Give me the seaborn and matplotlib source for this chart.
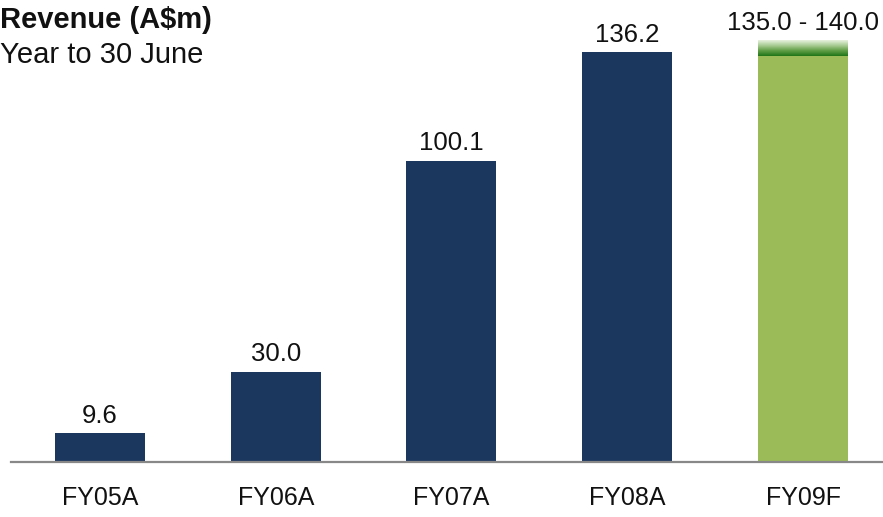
import numpy as np
import pandas as pd
import matplotlib
matplotlib.use("Agg")
import matplotlib.pyplot as plt
import seaborn as sns
from matplotlib.colors import LinearSegmentedColormap

categories = ["FY05A", "FY06A", "FY07A", "FY08A", "FY09F"]
revenue = [9.6, 30.0, 100.1, 136.2, 135.0]
labels = ["9.6", "30.0", "100.1", "136.2", "135.0 - 140.0"]
forecast_low = 135.0
forecast_high = 140.0

sns.set_theme(style="white")
plt.rcParams['font.family'] = ['Liberation Sans', 'DejaVu Sans']

fig = plt.figure(figsize=(8.83, 5.17), dpi=100)
ax = fig.add_axes([11/883, 55/517, 1 - 11/883, 462/517])

df = pd.DataFrame({"cat": categories, "val": revenue})
colors = ["#1b375e"] * 4 + ["#9bbb59"]
sns.barplot(data=df, x="cat", y="val", hue="cat", palette=colors, legend=False,
            width=0.512, ax=ax, saturation=1, linewidth=0)

# gradient cap for forecast range
cmap = LinearSegmentedColormap.from_list("g", ["#1f7418", "#5f9e45", "#a9cc95", "#e8f1df"])
grad = np.linspace(0, 1, 100).reshape(-1, 1)
ax.imshow(grad, aspect="auto", cmap=cmap, origin="lower",
          extent=(4 - 0.256, 4 + 0.256, forecast_low, forecast_high), zorder=3)
ax.set_xlim(-0.506, 4.455)
ax.set_ylim(0, 153.5)

tops = revenue[:4] + [forecast_high]
for i, (t, lab) in enumerate(zip(tops, labels)):
    ax.annotate(lab, (i, t), xytext=(0, 4), textcoords="offset points",
                ha="center", va="bottom", fontsize=18.5, color="#111111")

for s in ["top", "right", "left"]:
    ax.spines[s].set_visible(False)
ax.spines["bottom"].set_color("#888888")
ax.spines["bottom"].set_linewidth(1.6)
ax.set_yticks([])
ax.set_xlabel("")
ax.set_ylabel("")
ax.tick_params(axis="x", length=0, pad=17, labelsize=18, colors="#111111")

fig.text(0.0, 0.962, "Revenue (A$m)", fontsize=21, fontweight="bold",
         ha="left", va="center", color="#111111")
fig.text(0.0, 0.893, "Year to 30 June", fontsize=21,
         ha="left", va="center", color="#111111")

fig.savefig("out.png", dpi=100)
